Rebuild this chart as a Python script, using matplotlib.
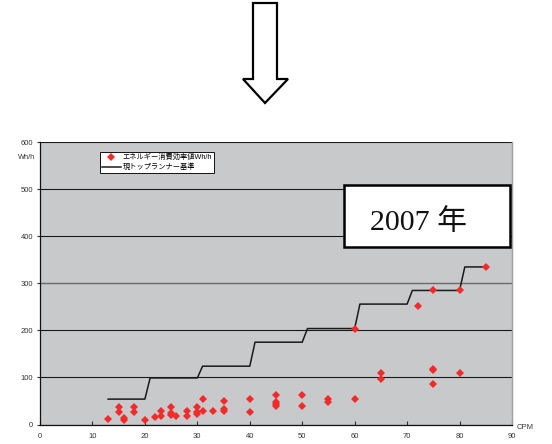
import matplotlib
matplotlib.use("Agg")
import matplotlib.pyplot as plt
from matplotlib.patches import Polygon, Rectangle

plt.rcParams['font.family'] = ['Liberation Sans', 'Noto Sans CJK JP', 'DejaVu Sans']

# ---- data ----
pts_x = [13, 15, 15, 16, 16, 18, 18, 20, 22, 23, 23, 25, 25, 25, 26, 28, 28,
         30, 30, 30, 31, 31, 33, 35, 35, 35, 40, 40, 45, 45, 45, 45, 50, 50,
         55, 55, 60, 60, 65, 65, 72, 75, 75, 75, 75, 80, 80, 85]
pts_y = [12, 38, 27, 10, 13, 38, 27, 10, 17, 19, 29, 38, 20, 25, 19, 29, 18,
         38, 22, 26, 54, 29, 29, 49, 34, 28, 54, 26, 63, 48, 44, 39, 63, 40,
         54, 47, 55, 204, 109, 97, 252, 285, 118, 115, 86, 110, 285, 335]
std_x = [13, 20, 21, 30, 31, 40, 41, 50, 51, 60, 61, 70, 71, 80, 81, 85]
std_y = [54, 54, 99, 99, 124, 124, 175, 175, 204, 204, 256, 256, 285, 285, 335, 335]
x_ticks = [0, 10, 20, 30, 40, 50, 60, 70, 80, 90]
y_ticks = [0, 100, 200, 300, 400, 500, 600]
label_points = "エネルギー消費効率値Wh/h"
label_std = "現トップランナー基準"
year_text = "2007 年"

W, H = 552, 444
fig = plt.figure(figsize=(W / 100, H / 100), dpi=100)

def fx(px):
    return px / W

def fy(py):
    return 1 - py / H

ax_l, ax_r, ax_t, ax_b = 40, 512, 142.3, 424.5
ax = fig.add_axes([fx(ax_l), fy(ax_b), fx(ax_r - ax_l), (ax_b - ax_t) / H])
ax.set_facecolor('#c8c9cb')
ax.set_xlim(0, 90)
ax.set_ylim(0, 600)
ax.set_xticks(x_ticks)
ax.set_yticks(y_ticks)
ax.tick_params(axis='x', direction='in', length=3, width=0.8, labelsize=5.5, pad=6, colors='#333333')
ax.tick_params(axis='y', direction='out', length=2, width=0.8, labelsize=5.5, pad=3, colors='#333333')
ax.yaxis.grid(True, color='#1a1a1a', linewidth=0.8)
ax.set_axisbelow(True)
gl = ax.get_ygridlines()
gl[3].set_color('#6a6a6a')
gl[3].set_linewidth(1.0)
for s in ['left', 'bottom']:
    ax.spines[s].set_color('#111111')
    ax.spines[s].set_linewidth(0.9)
ax.spines['top'].set_visible(False)
ax.spines['right'].set_color('#a0a0a0')
ax.spines['right'].set_linewidth(1.0)

ax.plot(pts_x, pts_y, linestyle='none', marker='D', markersize=4.3, color='#f22a2a',
        markeredgewidth=0, label=label_points, zorder=4)
ax.plot(std_x, std_y, color='#1a1a1a', linewidth=1.1, label=label_std, zorder=3)

leg = ax.legend(loc='upper left', bbox_to_anchor=(0.127, 0.965), borderaxespad=0,
                fancybox=False, edgecolor='#111111', framealpha=1, fontsize=5.2,
                handlelength=2.6, handletextpad=0.3, borderpad=0.25, labelspacing=0.35)
leg.get_frame().set_linewidth(0.7)

fig.text(fx(27), fy(157), 'Wh/h', ha='center', va='center', fontsize=5.3, color='#333333')
fig.text(fx(525), fy(427), 'CPM', ha='center', va='center', fontsize=5.5, color='#333333')

# arrow
arrow = [(253, 3), (277, 3), (277, 79), (288, 79), (265, 103), (243, 79), (253, 79)]
fig.patches.append(Polygon([(fx(a), fy(b)) for a, b in arrow], closed=True,
                           transform=fig.transFigure, facecolor='white',
                           edgecolor='black', linewidth=1.6, joinstyle='miter'))

# year box
bx0, bx1, by0, by1 = 343.5, 510, 184.5, 246.5
fig.patches.append(Rectangle((fx(bx0), fy(by1)), fx(bx1 - bx0), (by1 - by0) / H,
                             transform=fig.transFigure, facecolor='white',
                             edgecolor='black', linewidth=1.8, zorder=5))
fig.text(fx(418), fy(223), year_text, ha='center', va='center', fontsize=21.5,
         family=['Liberation Serif', 'Noto Sans CJK JP'], color='#111111', zorder=6)

fig.savefig('out.png', dpi=100)
